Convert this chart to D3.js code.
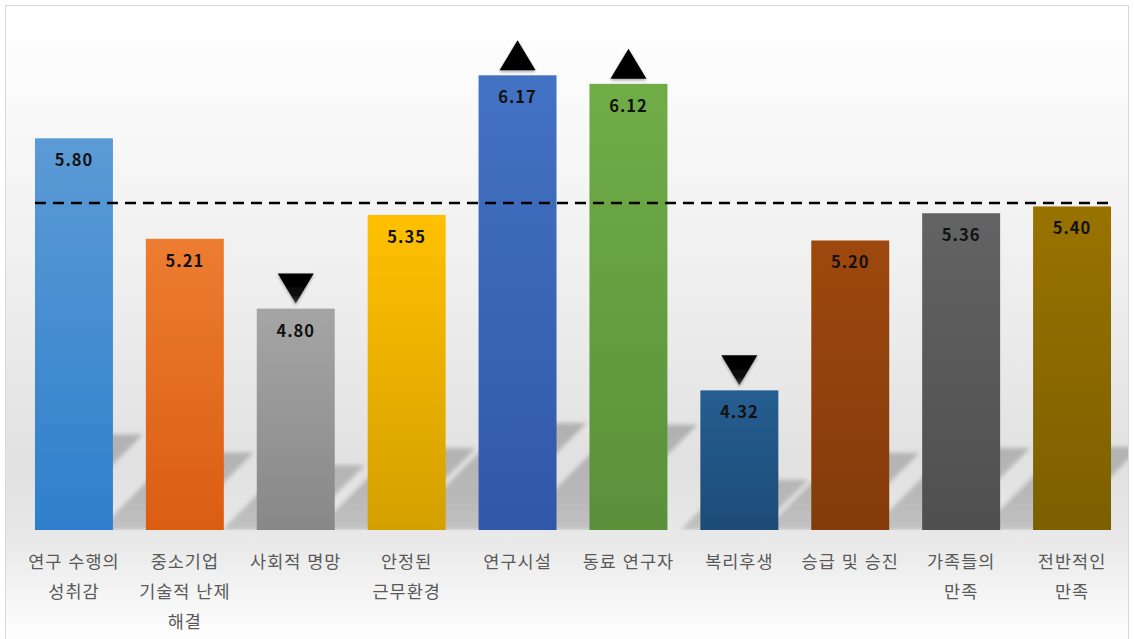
<!DOCTYPE html>
<html lang="ko">
<head>
<meta charset="utf-8">
<script src="https://cdn.jsdelivr.net/npm/d3@7"></script>
<style>
  html, body { margin: 0; padding: 0; background: #ffffff; }
  svg { display: block; }
</style>
</head>
<body>
<svg id="chart" width="1134" height="639"></svg>
<script>
// Satisfaction scores by item
const categories = [
  "연구 수행의\n성취감",
  "중소기업\n기술적 난제\n해결",
  "사회적 명망",
  "안정된\n근무환경",
  "연구시설",
  "동료 연구자",
  "복리후생",
  "승급 및 승진",
  "가족들의\n만족",
  "전반적인\n만족"
];
const values = [5.80, 5.21, 4.80, 5.35, 6.17, 6.12, 4.32, 5.20, 5.36, 5.40];
// Marker above each bar: above / below the reference level
const markers = ["", "", "down", "", "up", "up", "down", "", "", ""];
// Bar fill colours (top, bottom of the gradient)
const topColors = ["#5b9bd5", "#ed7d31", "#a5a5a5", "#ffc000", "#4472c4", "#70ad47", "#255e91", "#9e480e", "#636363", "#997300"];
const bottomColors = ["#2f7fcc", "#da5d12", "#888888", "#d4a000", "#3058a8", "#5a903a", "#1d4b77", "#833b0b", "#4f4f4f", "#7d5f00"];
// Dashed reference level
const referenceLevel = [5.42];

const W = 1134, H = 639;
const svg = d3.select("#chart");
const defs = svg.append("defs");

// Background wash
const bg = defs.append("linearGradient").attr("id", "bgGrad")
  .attr("x1", 0).attr("y1", 0).attr("x2", 0).attr("y2", 1);
[[0, "#ffffff"], [0.12, "#fbfbfb"], [0.45, "#eeeeee"], [0.72, "#e1e1e1"], [0.84, "#e9e9e9"], [0.97, "#fcfcfc"], [1, "#ffffff"]]
  .forEach(([o, c]) => bg.append("stop").attr("offset", o).attr("stop-color", c));

svg.append("rect").attr("x", 0).attr("y", 0).attr("width", W).attr("height", H).attr("fill", "#ffffff");
svg.append("rect")
  .attr("x", 5.5).attr("y", 5.5).attr("width", 1123).attr("height", 640)
  .attr("fill", "url(#bgGrad)")
  .attr("stroke", "#d9d9d9").attr("stroke-width", 1);

// Scales
const x = d3.scaleBand()
  .domain(categories)
  .range([18.5, 1127.5])
  .paddingInner(0.297)
  .paddingOuter(0.1485);

const y = d3.scaleLinear()
  .domain([3.5, 6.5])
  .range([530, 19.1]);

const base = y(3.5);

// Gradients per bar
categories.forEach((c, i) => {
  const g = defs.append("linearGradient").attr("id", "barGrad" + i)
    .attr("x1", 0).attr("y1", 0).attr("x2", 0).attr("y2", 1);
  g.append("stop").attr("offset", 0).attr("stop-color", topColors[i]);
  g.append("stop").attr("offset", 1).attr("stop-color", bottomColors[i]);
});

// Shadow styling
const blur = defs.append("filter").attr("id", "soft")
  .attr("x", "-20%").attr("y", "-20%").attr("width", "140%").attr("height", "140%");
blur.append("feGaussianBlur").attr("stdDeviation", 2.2);

const shGrad = defs.append("linearGradient").attr("id", "shadowGrad")
  .attr("gradientUnits", "userSpaceOnUse")
  .attr("x1", 0).attr("y1", base).attr("x2", 0).attr("y2", base - 110);
shGrad.append("stop").attr("offset", 0).attr("stop-color", "#c2c2c2");
shGrad.append("stop").attr("offset", 0.3).attr("stop-color", "#b8b8b8");
shGrad.append("stop").attr("offset", 1).attr("stop-color", "#b0b0b0");

// Keep the shadows inside the row of bars
const lastRight = x(categories[categories.length - 1]) + x.bandwidth();
defs.append("clipPath").attr("id", "shadowClip")
  .append("rect")
  .attr("x", x(categories[0])).attr("y", 0)
  .attr("width", lastRight + 17 - x(categories[0])).attr("height", base);

const triShadow = defs.append("filter").attr("id", "triShadow")
  .attr("x", "-30%").attr("y", "-30%").attr("width", "160%").attr("height", "160%");
triShadow.append("feDropShadow").attr("dx", 0).attr("dy", 1.5)
  .attr("stdDeviation", 1.5).attr("flood-color", "#000").attr("flood-opacity", 0.35);

const triGradDown = defs.append("linearGradient").attr("id", "triDown")
  .attr("x1", 0).attr("y1", 0).attr("x2", 0).attr("y2", 1);
triGradDown.append("stop").attr("offset", 0).attr("stop-color", "#000");
triGradDown.append("stop").attr("offset", 0.7).attr("stop-color", "#0a0a0a");
triGradDown.append("stop").attr("offset", 1).attr("stop-color", "#444");

// Cast shadows: skewed parallelograms lying behind each bar,
// reaching further back for taller bars
const shadowShift = 30;
const lift = d => 25 + 0.18 * (base - y(d));
svg.append("g").attr("clip-path", "url(#shadowClip)")
  .append("g").attr("filter", "url(#soft)")
  .selectAll("path")
  .data(values)
  .join("path")
  .attr("fill", "url(#shadowGrad)")
  .attr("d", (d, i) => {
    const x0 = x(categories[i]), x1 = x0 + x.bandwidth();
    const L = lift(d);
    return `M${x0 + shadowShift},${base - L}` +
      `L${x1 + shadowShift},${base - L}` +
      `L${x1 + shadowShift - L},${base}` +
      `L${x0 + shadowShift - L},${base}Z`;
  });

// Bars
svg.append("g")
  .selectAll("rect")
  .data(values)
  .join("rect")
  .attr("x", (d, i) => x(categories[i]))
  .attr("y", d => y(d))
  .attr("width", x.bandwidth())
  .attr("height", d => base - y(d))
  .attr("fill", (d, i) => `url(#barGrad${i})`);

// Reference line
svg.append("g")
  .selectAll("line")
  .data(referenceLevel)
  .join("line")
  .attr("x1", x(categories[0]))
  .attr("x2", lastRight)
  .attr("y1", d => y(d))
  .attr("y2", d => y(d))
  .attr("stroke", "#000")
  .attr("stroke-width", 2.6)
  .attr("stroke-dasharray", "11,7");

// Value labels inside the bar tops
svg.append("g")
  .selectAll("text")
  .data(values)
  .join("text")
  .attr("x", (d, i) => x(categories[i]) + x.bandwidth() / 2)
  .attr("y", d => y(d) + 28)
  .attr("text-anchor", "middle")
  .attr("font-family", "'Noto Sans CJK KR', 'Noto Sans', sans-serif")
  .attr("font-weight", 700)
  .attr("font-size", 16.5)
  .attr("letter-spacing", 1)
  .attr("fill", "#111")
  .text(d => d.toFixed(2));

// Up / down markers
const triHalf = 18, triH = 30, triGap = 5;
svg.append("g")
  .selectAll("path")
  .data(values.map((v, i) => ({ v, i, m: markers[i] })).filter(d => d.m))
  .join("path")
  .attr("filter", "url(#triShadow)")
  .attr("fill", d => d.m === "down" ? "url(#triDown)" : "#000")
  .attr("d", d => {
    const cx = x(categories[d.i]) + x.bandwidth() / 2;
    const b = y(d.v) - triGap;
    if (d.m === "up") {
      return `M${cx - triHalf},${b}L${cx + triHalf},${b}L${cx},${b - triH}Z`;
    }
    return `M${cx - triHalf},${b - triH}L${cx + triHalf},${b - triH}L${cx},${b}Z`;
  });

// Category labels (multi-line)
const labels = svg.append("g")
  .selectAll("text")
  .data(categories)
  .join("text")
  .attr("x", c => x(c) + x.bandwidth() / 2)
  .attr("y", 568)
  .attr("text-anchor", "middle")
  .attr("font-family", "'Noto Sans CJK KR', sans-serif")
  .attr("font-size", 17.5)
  .attr("letter-spacing", 1)
  .attr("fill", "#595959");

labels.selectAll("tspan")
  .data(c => c.split("\n").map(t => ({ t, c })))
  .join("tspan")
  .attr("x", d => x(d.c) + x.bandwidth() / 2)
  .attr("dy", (d, i) => i === 0 ? 0 : 30)
  .text(d => d.t);
</script>
</body>
</html>
